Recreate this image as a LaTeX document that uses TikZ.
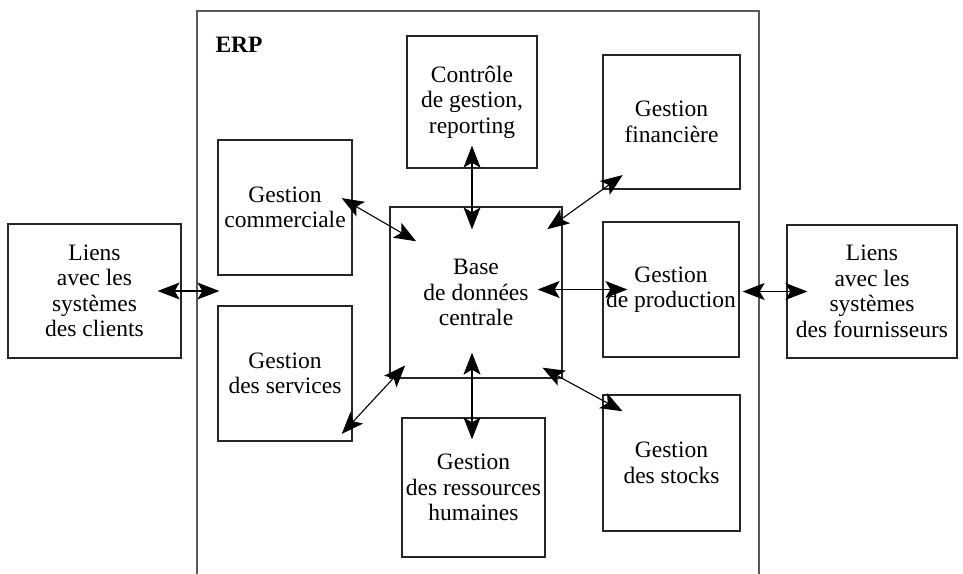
\documentclass[tikz,border=0pt]{standalone}
\usepackage{fontspec}
\setmainfont{Liberation Serif}
\usetikzlibrary{arrows.meta}

\begin{document}
\begin{tikzpicture}[
    x=1pt, y=-1pt,
    box/.style={draw=black!85, line width=1.3pt, inner sep=0pt, align=center,
      font=\fontsize{23.5}{25.5}\selectfont},
    erpbox/.style={draw=black!65, line width=1.3pt, inner sep=0pt},
    arr/.style={{Stealth[length=22pt,width=17pt,inset=5pt]}-{Stealth[length=22pt,width=17pt,inset=5pt]}, line width=1.1pt}
]
  \path[use as bounding box] (0,0) rectangle (963,573);
  \clip (0,0) rectangle (963,573);

  % cadre ERP, ouvert vers le bas
  \node[erpbox, minimum width=562pt, minimum height=589pt] (erp) at (478,305.5) {};
  \node[anchor=west, inner sep=0pt, font=\fontsize{23.5}{25.5}\selectfont\bfseries]
    (erplbl) at ([xshift=19pt,yshift=-34pt]erp.north west) {ERP};

  \node[box, minimum width=130pt, minimum height=132pt] (ctl) at (472,102) {Contrôle\\de gestion,\\reporting};
  \node[box, minimum width=137pt, minimum height=134pt] (fin) at (671.5,122) {Gestion\\financière};
  \node[box, minimum width=134pt, minimum height=135pt] (com) at (285,207.5) {Gestion\\commerciale};
  \node[box, minimum width=172pt, minimum height=171pt] (base) at (476,292.5) {Base\\de données\\centrale};
  \node[box, minimum width=136pt, minimum height=135pt] (prod) at (671,289.5) {Gestion\\de production};
  \node[box, minimum width=134pt, minimum height=135pt] (serv) at (285,373.5) {Gestion\\des services};
  \node[box, minimum width=143pt, minimum height=139pt] (rh) at (473.5,487.5) {Gestion\\des ressources\\humaines};
  \node[box, minimum width=137pt, minimum height=136pt] (stk) at (671.5,463) {Gestion\\des stocks};

  \node[box, minimum width=173pt, minimum height=134pt] (cli) at (94.5,291) {Liens\\avec les\\systèmes\\des clients};
  \node[box, minimum width=170pt, minimum height=133pt] (fou) at (872,291.5) {Liens\\avec les\\systèmes\\des fournisseurs};

  % liaisons externes
  \draw[arr, shorten <=-24pt, shorten >=-23pt] (cli.east) -- (cli.east -| erp.west);
  \draw[arr, shorten <=3pt, shorten >=-21pt] (prod.east |- fou.west) -- (fou.west);

  % liaisons avec la base
  \draw[arr, shorten <=-25pt, shorten >=-25pt] (base.east |- prod.west) -- (prod.west);
  \draw[arr, shorten <=-23pt, shorten >=-23pt] (ctl.south) -- (ctl.south |- base.north);
  \draw[arr, shorten <=-26pt, shorten >=-22pt] (base.south -| ctl.south) -- (rh.north -| ctl.south);
  \draw[arr, shorten <=-12.7pt, shorten >=-31pt] ([yshift=3pt]com.east) -- ([yshift=-19.4pt]base.north west);
  \draw[arr, shorten <=-25pt, shorten >=-19pt] (fin.south west) -- ([yshift=-11.8pt]base.north east);
  \draw[arr, shorten <=-16pt, shorten >=-18pt] ([yshift=19.5pt]serv.south east) -- ([xshift=3.6pt]base.south west);
  \draw[arr, shorten <=-23pt, shorten >=-23pt] (base.south east) -- ([yshift=-5.9pt]stk.north west);
\end{tikzpicture}
\end{document}
